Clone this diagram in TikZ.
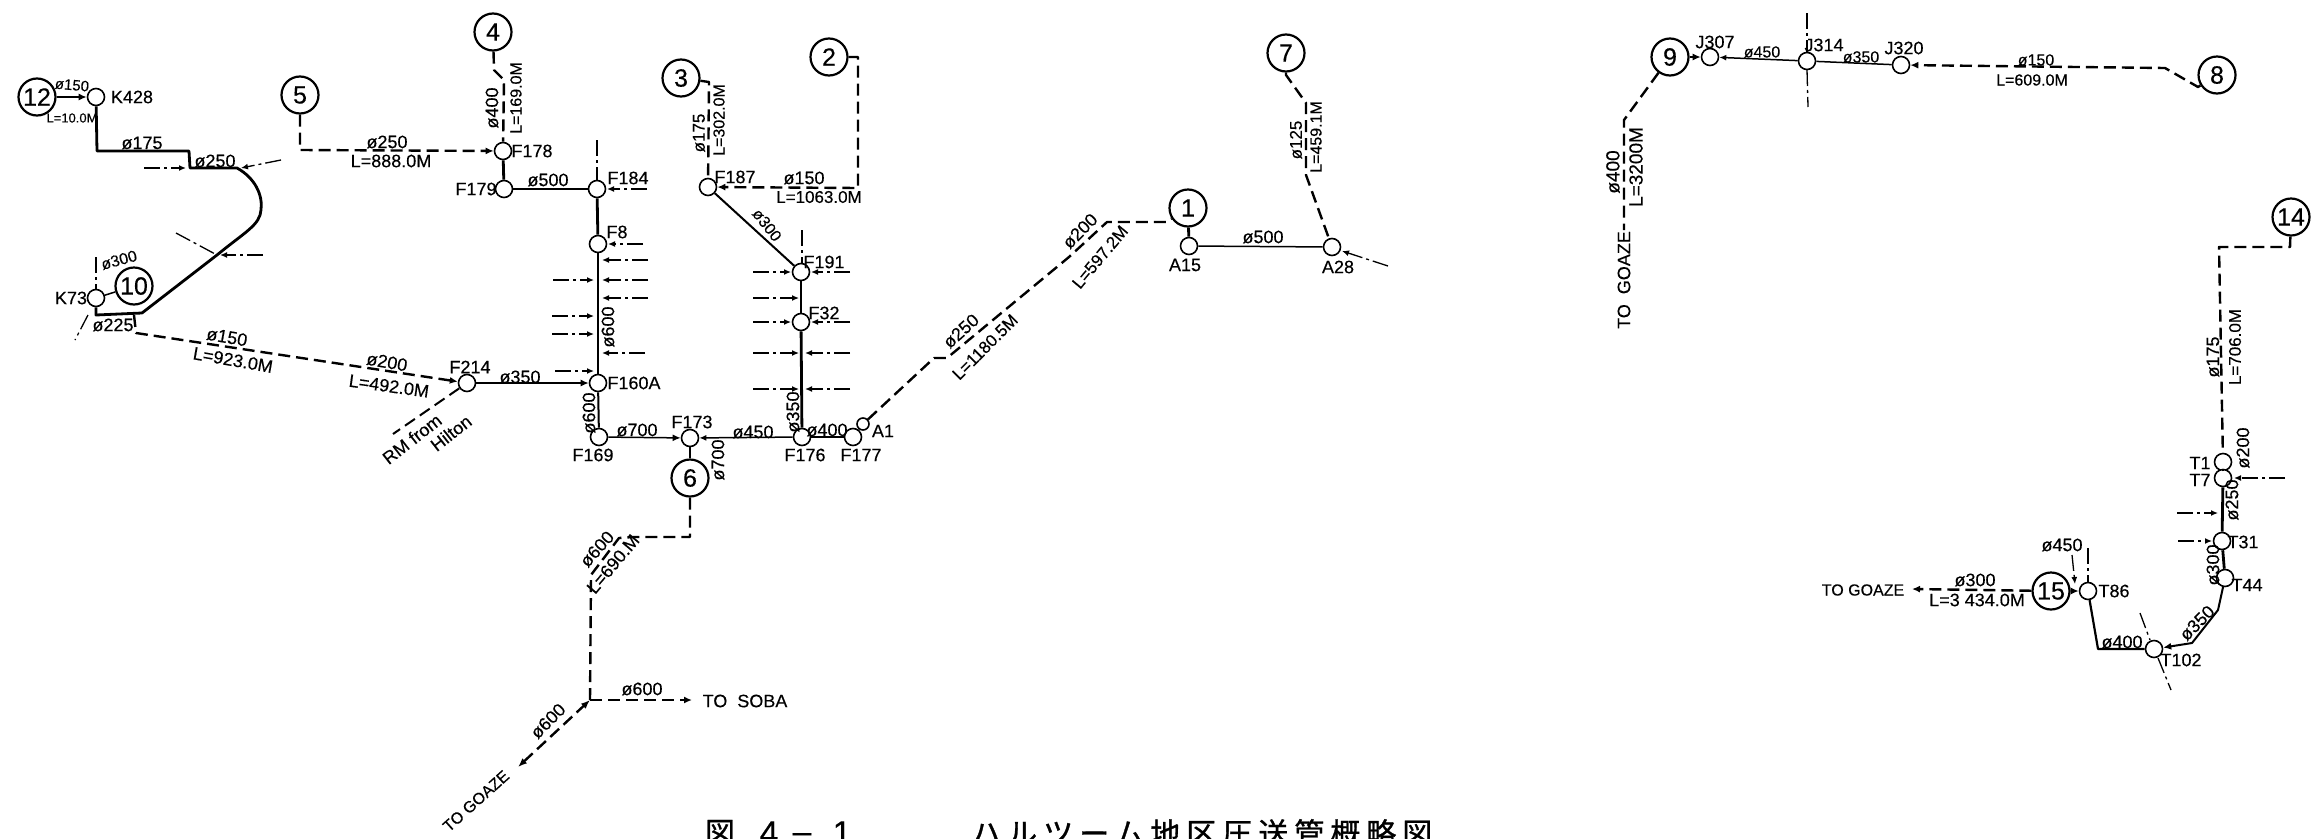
\documentclass[tikz,border=0pt]{standalone}
\usepackage{fontspec}
\setmainfont[FakeBold=0.3]{Liberation Sans}
\newfontfamily\cjkfont[LetterSpace=20,FakeBold=1]{Noto Sans CJK JP}
\newfontfamily\cjkplain[FakeBold=1]{Noto Sans CJK JP}
\usetikzlibrary{arrows.meta}
\newcounter{lb}
\newcommand{\lab}[3][]{\stepcounter{lb}\node[labeltext,#1] (lab\thelb) at (#2) {#3};}
\tikzset{
  labeltext/.style={font=\fontsize{18}{20}\selectfont,inner sep=0pt,text=black},
  fs/.style={font=\fontsize{#1}{#1}\selectfont},
  jct/.style={circle,draw=black,line width=1.6pt,fill=white,minimum size=17pt,inner sep=0pt},
  num/.style={circle,draw=black,line width=2.2pt,fill=white,minimum size=37pt,inner sep=0pt,font=\fontsize{25}{25}\selectfont},
  pipe/.style={line width=2.8pt,line join=round},
  thinpipe/.style={line width=1.5pt},
  dpipe/.style={line width=2.4pt,dash pattern=on 12pt off 6pt,line join=round},
  ahead/.style={-{Latex[length=8pt,width=7pt]}},
  branch/.style={line width=1.3pt,dash pattern=on 16pt off 4pt on 3pt off 4pt},
  stub/.style={branch,-{Latex[length=7pt,width=6pt]}},
}
\begin{document}
\begin{tikzpicture}[x=1pt,y=-1pt]
\useasboundingbox (0,0) rectangle (2314,838);
\clip (0,0) rectangle (2314,838);
% numbered circles
\node[num] (n1) at (1188,208) {1};
\node[num] (n2) at (829,57) {2};
\node[num] (n3) at (681,78) {3};
\node[num] (n4) at (493,32) {4};
\node[num] (n5) at (300,95) {5};
\node[num] (n6) at (690,478) {6};
\node[num] (n7) at (1286,53) {7};
\node[num] (n8) at (2217,75) {8};
\node[num] (n9) at (1670,57) {9};
\node[num] (n10) at (134,286) {10};
\node[num] (n12) at (37,97) {12};
\node[num] (n14) at (2291,217) {14};
\node[num] (n15) at (2051,591) {15};
% junctions
\node[jct] (K428) at (96,97) {};
\node[jct] (K73) at (96,298) {};
\node[jct] (F178) at (503,151) {};
\node[jct] (F179) at (504,189) {};
\node[jct] (F184) at (597,189) {};
\node[jct] (F8) at (598,244) {};
\node[jct] (F160A) at (598,383) {};
\node[jct] (F214) at (467,383) {};
\node[jct] (F169) at (599,437) {};
\node[jct] (F173) at (690,438) {};
\node[jct] (F176) at (802,437) {};
\node[jct] (F177) at (853,437) {};
\node[jct,minimum size=12pt] (A1) at (863,424) {};
\node[jct] (F187) at (708,187) {};
\node[jct] (F191) at (801,272) {};
\node[jct] (F32) at (801,322) {};
\node[jct] (A15) at (1189,246) {};
\node[jct] (A28) at (1332,247) {};
\node[jct] (J307) at (1710,57) {};
\node[jct] (J314) at (1807,61) {};
\node[jct] (J320) at (1901,65) {};
\node[jct] (T1) at (2223,462) {};
\node[jct] (T7) at (2223,478) {};
\node[jct] (T31) at (2222,541) {};
\node[jct] (T44) at (2225,578) {};
\node[jct] (T102) at (2154,649) {};
\node[jct] (T86) at (2088,591) {};
% free ends
\coordinate (sobaend) at (692,700);
\coordinate (goazeA) at (518,767);
\coordinate (goazeB) at (1624,230);
\coordinate (goazeC) at (1912,589);
\coordinate (jn) at (590,700);
\coordinate (rmend) at (393,434);
% solid pipes
\draw[pipe] (K428) -- (97,151) -- (189,151) -- (190,168) -- (237,168)
  .. controls (255,178) and (263,195) .. (261,210)
  .. controls (260,225) and (245,232) .. (217,255) -- (142,313) -- (96,315) -- (K73);
\draw[pipe] (F178) -- (F179);
\draw[pipe] (F184) -- (F8);
\draw[pipe] (F8) -- (F160A);
\draw[pipe,line width=2pt] (F160A) -- (F169);
\draw[pipe] (F173) -- (n6);
\draw[pipe,line width=2pt] (F187) -- (F191);
\draw[pipe] (F191) -- (F32);
\draw[pipe] (F32) -- (F176);
\draw[pipe] (n1) -- (A15);
\draw[pipe] (T1) -- (T7);
\draw[pipe] (T7) -- (T31);
\draw[pipe] (T31) -- (T44);
\draw[pipe,ahead,line width=2pt] (T44) -- (2218,610) -- (2192,643) -- (T102);
\draw[pipe,line width=2.2pt] (T102) -- (2098,649) -- (T86);
% thin pipes
\draw[thinpipe] (F179) -- (F184);
\draw[thinpipe,ahead] (F214) -- (F160A);
\draw[thinpipe,ahead] (F169) -- (F173);
\draw[thinpipe,{Latex[length=7pt,width=6pt]}-] (F173) -- (F176);
\draw[thinpipe] (F176) -- (F177);
\draw[thinpipe] (F177) -- (A1);
\draw[thinpipe] (A15) -- (A28);
\draw[thinpipe,{Latex[length=7pt,width=6pt]}-] (J307) -- (J314);
\draw[thinpipe] (J314) -- (J320);
\draw[thinpipe,ahead] (n12) -- (K428);
\draw[thinpipe,ahead] (n9) -- (J307);
\draw[thinpipe,ahead] (n15) -- (T86);
% dashed pipes
\draw[dpipe,ahead] (n5) -- (300,150) -- (F178);
\draw[dpipe] (n4) -- (494,70) -- (504,80) -- (F178);
\draw[dpipe,ahead] (134,315) -- (136,333) -- (F214);
\draw[dpipe] (n3) -- (709,82) -- (F187);
\draw[dpipe,ahead] (n2) -- (858,57) -- (858,188) -- (F187);
\draw[dpipe] (A1) -- (934,358) -- (947,358) -- (1069,257) -- (1107,222) -- (1166,222) -- (n1);
\draw[dpipe] (n7) -- (1286,75) -- (1306,103) -- (1306,175) -- (A28);
\draw[dpipe] (n6) -- (690,537) -- (633,537) -- (619,538) -- (591,575) -- (jn);
\draw[dpipe,line width=1.8pt,ahead] (jn) -- (sobaend);
\draw[dpipe,{Latex[length=9pt,width=7pt]}-{Latex[length=9pt,width=7pt]}] (goazeA) -- (jn);
\draw[dpipe,ahead] (n8) -- (2198,87) -- (2165,68) -- (J320);
\draw[dpipe] (n9) -- (1624,120) -- (goazeB);
\draw[dpipe] (n14) -- (2290,247) -- (2219,247) -- (T1);
\draw[dpipe,ahead] (n15) -- (goazeC);
\draw[dpipe,line width=2pt] (F214) -- (rmend);
% branch marks
\foreach \fx/\fy/\tx/\ty [count=\i] in {
  144/168/186/168, 281/160/241/168, 263/255/220/255,
  647/189/607/189, 643/244/608/244, 648/260/602/260, 648/280/602/280,
  553/280/594/280, 648/298/602/298, 552/316/594/316, 552/334/594/334,
  645/353/602/353, 555/371/594/371,
  753/272/791/272, 850/272/811/272, 753/298/799/298, 753/322/791/322,
  850/322/811/322, 753/353/799/353, 850/353/805/353, 753/389/799/389,
  850/389/805/389, 1388/266/1342/251, 2285/478/2234/478, 2177/513/2218/513,
  2178/541/2212/541, 2072/555/2075/584}{
  \coordinate (sa\i) at (\fx,\fy);
  \coordinate (sb\i) at (\tx,\ty);
  \draw[stub] (sa\i) -- (sb\i);
}
\foreach \fx/\fy/\tx/\ty [count=\i] in {
  176/233/217/255, 96/257/96/289, 597/140/597/180, 802/230/802/263,
  88/315/75/340, 1807/13/1807/52, 1807/70/1808/107, 2140/613/2150/640,
  2158/658/2171/690, 2088/548/2088/582}{
  \coordinate (ta\i) at (\fx,\fy);
  \coordinate (tb\i) at (\tx,\ty);
  \draw[branch] (ta\i) -- (tb\i);
}
\draw[thinpipe] (K73) -- (n10);
% junction labels
\lab{71,298}{K73}
\lab{132,97}{K428}
\lab{532,151}{F178}
\lab{476,189}{F179}
\lab{628,178}{F184}
\lab{617,232}{F8}
\lab{634,383}{F160A}
\lab{470,367}{F214}
\lab{593,455}{F169}
\lab{692,422}{F173}
\lab{805,455}{F176}
\lab{861,455}{F177}
\lab{883,431}{A1}
\lab{735,177}{F187}
\lab{824,262}{F191}
\lab{824,313}{F32}
\lab{1185,265}{A15}
\lab{1338,267}{A28}
\lab{1715,42}{J307}
\lab{1824,45}{J314}
\lab{1904,48}{J320}
\lab{2200,463}{T1}
\lab{2200,480}{T7}
\lab{2243,542}{T31}
\lab{2247,585}{T44}
\lab{2181,660}{T102}
\lab{2114,591}{T86}
% pipe labels, left group
\lab[rotate=-5,fs=15]{72,85}{ø150}
\lab[fs=13]{72,118}{L=10.0M}
\lab{142,143}{ø175}
\lab{215,161}{ø250}
\lab[rotate=15,fs=16]{119,260}{ø300}
\lab{113,325}{ø225}
\lab[rotate=-10]{227,337}{ø150}
\lab[rotate=-10]{233,360}{L=923.0M}
\lab[rotate=-10]{387,362}{ø200}
\lab[rotate=-8]{389,386}{L=492.0M}
\lab{387,142}{ø250}
\lab{391,161}{L=888.0M}
\lab[rotate=90,fs=18]{492,108}{ø400}
\lab[rotate=90,fs=16]{516,98}{L=169.0M}
\lab{548,180}{ø500}
\lab{520,377}{ø350}
\lab[rotate=90]{608,327}{ø600}
\lab[rotate=90]{589,413}{ø600}
\lab{637,430}{ø700}
\lab{753,432}{ø450}
\lab{827,430}{ø400}
\lab[rotate=90]{718,460}{ø700}
\lab[rotate=90]{793,412}{ø350}
\lab[rotate=38]{412,439}{RM from}
\lab[rotate=38]{451,433}{Hilton}
\lab[rotate=48]{597,549}{ø600}
\lab[rotate=50]{613,564}{L=690.M}
\lab{642,689}{ø600}
\lab{745,701}{TO\ \ SOBA}
\lab[rotate=45]{548,721}{ø600}
\lab[rotate=42,fs=16]{476,801}{TO GOAZE}
% pipe labels, middle group
\lab[rotate=90,fs=17]{699,133}{ø175}
\lab[rotate=90,fs=16]{719,120}{L=302.0M}
\lab{804,178}{ø150}
\lab[fs=17]{819,197}{L=1063.0M}
\lab[rotate=-52,fs=16]{767,225}{ø300}
\lab[rotate=42,fs=18]{961,331}{ø250}
\lab[rotate=45,fs=17]{985,347}{L=1180.5M}
\lab[rotate=45,fs=18]{1080,231}{ø200}
\lab[rotate=50,fs=17]{1100,257}{L=597.2M}
\lab{1263,237}{ø500}
\lab[rotate=90,fs=17]{1296,140}{ø125}
\lab[rotate=90,fs=16]{1316,137}{L=459.1M}
% pipe labels, right group
\lab[fs=16]{1762,52}{ø450}
\lab[fs=16]{1861,57}{ø350}
\lab[fs=16]{2036,60}{ø150}
\lab[fs=16]{2032,80}{L=609.0M}
\lab[rotate=90,fs=19]{1613,172}{ø400}
\lab[rotate=90,fs=19]{1636,167}{L=3200M}
\lab[rotate=90]{1624,280}{TO\ \ GOAZE}
\lab[rotate=90]{2213,357}{ø175}
\lab[rotate=90,fs=17]{2235,347}{L=706.0M}
\lab[rotate=90]{2243,448}{ø200}
\lab[rotate=90]{2232,500}{ø250}
\lab[rotate=90]{2213,565}{ø300}
\lab[rotate=45]{2197,623}{ø350}
\lab{2122,642}{ø400}
\lab{2062,545}{ø450}
\lab{1975,580}{ø300}
\lab{1977,600}{L=3 434.0M}
\lab[fs=16]{1863,590}{TO GOAZE}
% caption
\node[font=\fontsize{30}{30}\selectfont\cjkplain,inner sep=0pt] (capa) at (720,833) {図};
\node[font=\fontsize{34}{34}\selectfont,inner sep=0pt] (capb) at (769,833) {4};
\node[font=\fontsize{34}{34}\selectfont,inner sep=0pt] (capc) at (802,838) {–};
\node[font=\fontsize{34}{34}\selectfont,inner sep=0pt] (capd) at (842,833) {1};
\node[font=\fontsize{30}{30}\selectfont\cjkfont,inner sep=0pt,anchor=west] (cape) at (971,833) {ハルツーム地区圧送管概略図};
\end{tikzpicture}
\end{document}
